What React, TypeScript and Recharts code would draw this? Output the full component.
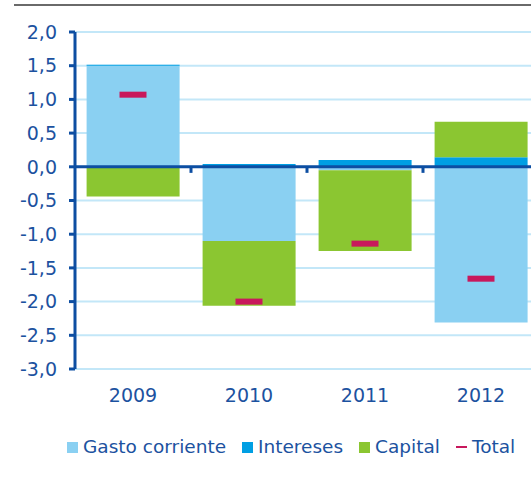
import { ComposedChart, Bar, Line, XAxis, YAxis, CartesianGrid, ReferenceLine } from 'recharts'

const years = ['2009', '2010', '2011', '2012']
const gastoCorriente = [1.5, -1.1, -0.05, -2.31]
const intereses = [0.015, 0.04, 0.1, 0.14]
const capital = [-0.44, -0.96, -1.2, 0.53]
const total = [1.07, -2.0, -1.14, -1.66]
const yTicks = [-3, -2.5, -2, -1.5, -1, -0.5, 0, 0.5, 1, 1.5, 2]

const seriesNames = ['Gasto corriente', 'Intereses', 'Capital', 'Total']
const seriesColors = ['#8ad0f2', '#009fe3', '#8bc631', '#c8185c']

const axisBlue = '#0d4ea2'
const textBlue = '#1c52a0'
const gridBlue = '#c3e7f8'
const font = '"DejaVu Sans", sans-serif'

const data = years.map((year, i) => ({
  year,
  gasto: gastoCorriente[i],
  intereses: intereses[i],
  capital: capital[i],
  total: total[i],
}))

const fmt = (v: number) => v.toFixed(1).replace('.', ',')

function TotalMark(props: any) {
  const { cx, cy } = props
  if (cx == null || cy == null) return null
  return <rect x={cx - 13.5} y={cy - 3} width={27} height={6} fill={seriesColors[3]} />
}

function LegendRow() {
  return (
    <div style={{ position: 'absolute', left: 67, top: 434, display: 'flex', alignItems: 'center', whiteSpace: 'nowrap', fontFamily: font, fontSize: 18.5, color: textBlue, lineHeight: '26px' }}>
      {seriesNames.map((name, i) => (
        <div key={name} style={{ display: 'flex', alignItems: 'center', marginRight: 16, flexShrink: 0 }}>
          {i < 3 ? (
            <span style={{ display: 'inline-block', width: 11, height: 11, background: seriesColors[i], marginRight: 5 }} />
          ) : (
            <span style={{ display: 'inline-block', width: 11, height: 2, background: seriesColors[i], marginRight: 5 }} />
          )}
          <span>{name}</span>
        </div>
      ))}
    </div>
  )
}

export default function App() {
  return (
    <div style={{ position: 'fixed', left: 0, top: 0, width: 531, height: 480, overflow: 'hidden', background: '#fff' }}>
      <div style={{ position: 'absolute', left: 14, top: 4, width: 517, height: 2, background: '#6a6a6a' }} />
      <ComposedChart
        width={545}
        height={420}
        data={data}
        stackOffset="sign"
        margin={{ top: 32, right: 6, bottom: 11, left: 0 }}
        barCategoryGap="10%"
        style={{ fontFamily: font }}
      >
        <CartesianGrid vertical={false} stroke={gridBlue} strokeWidth={2} />
        <XAxis
          dataKey="year"
          height={40}
          interval={0}
          tickLine={false}
          axisLine={false}
          tickMargin={14}
          tick={{ fill: textBlue, fontSize: 19 }}
        />
        <YAxis
          width={75}
          domain={[-3, 2]}
          ticks={yTicks}
          interval={0}
          tickFormatter={fmt}
          tickSize={6}
          tickMargin={12}
          axisLine={{ stroke: axisBlue, strokeWidth: 3 }}
          tickLine={{ stroke: axisBlue, strokeWidth: 3 }}
          tick={{ fill: textBlue, fontSize: 19 }}
        />
        <Bar dataKey="gasto" name={seriesNames[0]} stackId="a" fill={seriesColors[0]} isAnimationActive={false} />
        <Bar dataKey="intereses" name={seriesNames[1]} stackId="a" fill={seriesColors[1]} isAnimationActive={false} />
        <Bar dataKey="capital" name={seriesNames[2]} stackId="a" fill={seriesColors[2]} isAnimationActive={false} />
        <ReferenceLine y={0} stroke={axisBlue} strokeWidth={3} />
        {years.slice(1).map((y) => (
          <ReferenceLine
            key={y}
            segment={[{ x: y, y: 0 }, { x: y, y: -0.09 }]}
            position="start"
            stroke={axisBlue}
            strokeWidth={3}
          />
        ))}
        <Line
          dataKey="total"
          name={seriesNames[3]}
          stroke="none"
          dot={<TotalMark />}
          activeDot={false}
          legendType="none"
          isAnimationActive={false}
        />
      </ComposedChart>
      <LegendRow />
    </div>
  )
}
